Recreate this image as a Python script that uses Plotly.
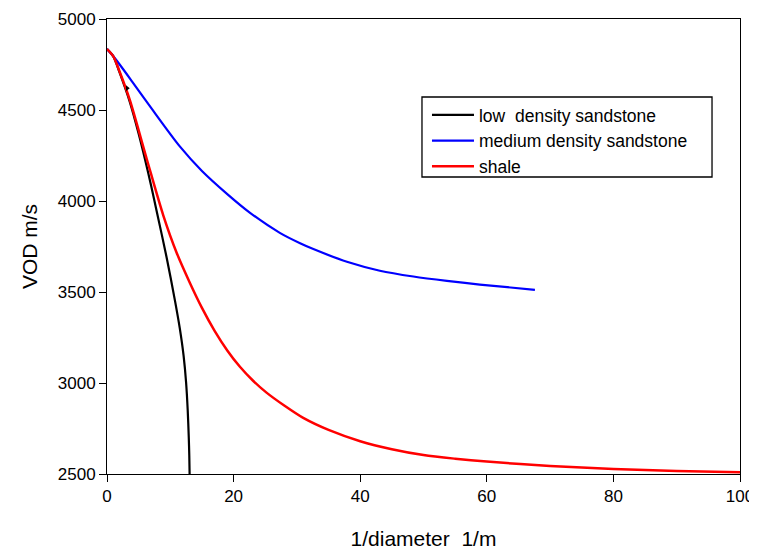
import plotly.graph_objects as go

# values
low_x = [0, 1, 2, 3.6, 5, 6, 7, 7.84, 9.42, 10.75, 11.5, 12.1, 12.5, 12.75, 12.92, 13.0, 13.05]
low_vod = [4835, 4795, 4705, 4545, 4370, 4230, 4080, 3945, 3690, 3450, 3300, 3150, 3000, 2850, 2700, 2600, 2500]

med_x = [0, 1, 2, 4, 7, 11.5, 15, 19, 22.6, 27.3, 30.5, 32.6, 37.9, 43.1, 48.4, 53.7, 58.9, 67.6]
med_vod = [4835, 4795, 4750, 4655, 4510, 4300, 4165, 4038, 3935, 3825, 3768, 3736, 3666, 3617, 3585, 3561, 3541, 3512]

shale_x = [0, 1, 2, 3.6, 6.3, 8.9, 11, 13.1, 15, 17, 19, 21, 23, 25.2, 28, 31, 35, 40, 45, 50, 55, 60, 70, 80, 90, 100]
shale_vod = [4835, 4795, 4710, 4555, 4228, 3920, 3716, 3550, 3413, 3287, 3179, 3089, 3015, 2947, 2876, 2808, 2742, 2680, 2636, 2604, 2584, 2568, 2544, 2528, 2517, 2510]

# stray arrow head left in the original drawing
stray_x = [3.2]
stray_vod = [4620]

FONT = "Liberation Sans, Arial, sans-serif"

fig = go.Figure()
fig.add_trace(go.Scatter(x=low_x, y=low_vod, mode="lines", name="low\u00a0 density sandstone",
                         line=dict(color="black", width=2.2, shape="spline", smoothing=0.8)))
fig.add_trace(go.Scatter(x=med_x, y=med_vod, mode="lines", name="medium density sandstone",
                         line=dict(color="blue", width=2.2, shape="spline", smoothing=0.8)))
fig.add_trace(go.Scatter(x=shale_x, y=shale_vod, mode="lines", name="shale",
                         line=dict(color="red", width=2.5, shape="spline", smoothing=0.8)))
fig.add_trace(go.Scatter(x=stray_x, y=stray_vod, mode="markers", showlegend=False,
                         marker=dict(symbol="triangle-right", size=5, color="black")))

axis_style = dict(
    showline=True, linecolor="black", linewidth=1, mirror=True,
    ticks="outside", ticklen=7, tickcolor="black",
    showgrid=False, zeroline=False, automargin=False,
    tickfont=dict(family=FONT, size=17, color="black"),
)

# legend frame drawn as a shape so its size matches the original
fig.add_shape(type="rect", xref="paper", yref="paper",
              x0=0.4976, x1=0.9558, y0=0.6527, y1=0.8286,
              line=dict(color="black", width=1.3), fillcolor="rgba(0,0,0,0)")

# the page body adds 8px around the figure, so the figure is 8px smaller
fig.update_layout(
    width=749, height=542,
    margin=dict(l=99, r=17, t=11, b=76),
    paper_bgcolor="white", plot_bgcolor="white",
    font=dict(family=FONT, color="black"),
    xaxis=dict(range=[0, 100], dtick=20,
               title=dict(text="1/diameter\u00a0 1/m", font=dict(size=21), standoff=27),
               **axis_style),
    yaxis=dict(range=[2500, 5000], dtick=500,
               title=dict(text="VOD m/s", font=dict(size=21), standoff=14),
               **axis_style),
    legend=dict(x=0.5055, y=0.8286, xanchor="left", yanchor="top",
                borderwidth=0, bgcolor="rgba(0,0,0,0)",
                font=dict(family=FONT, size=17.5), tracegroupgap=0,
                itemwidth=42),
)

fig.write_html("out.html")
